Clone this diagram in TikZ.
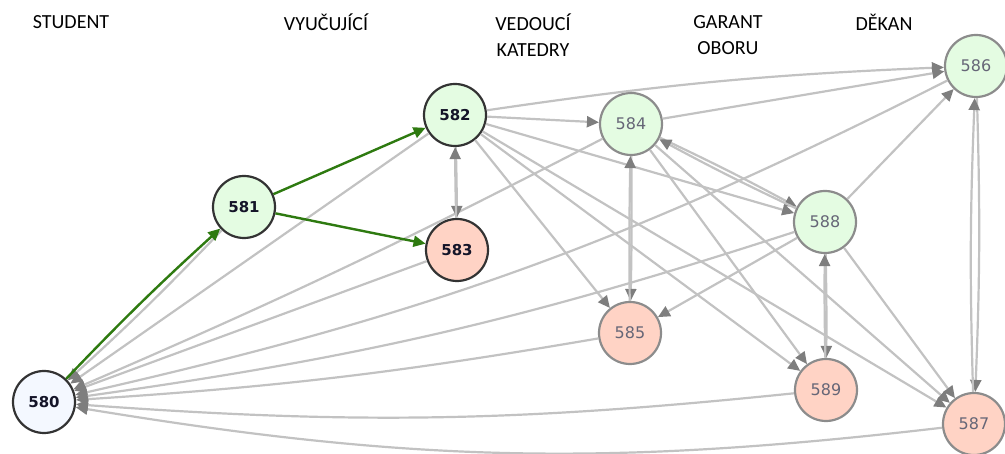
\documentclass[tikz,border=0pt]{standalone}
\usepackage{fontspec}
\setmainfont{Carlito}
\newfontfamily\numfont{DejaVu Sans}
\usetikzlibrary{arrows.meta}
\definecolor{edgegray}{HTML}{C2C2C2}
\definecolor{tipgray}{HTML}{7E7E7E}
\definecolor{flowgreen}{HTML}{2E7A10}
\definecolor{studfill}{HTML}{F4F8FF}
\definecolor{okfill}{HTML}{E4FCE2}
\definecolor{nofill}{HTML}{FFD3C5}
\definecolor{darkrim}{HTML}{333333}
\definecolor{lightrim}{HTML}{8C8C8C}
\definecolor{darknum}{HTML}{141428}
\definecolor{lightnum}{HTML}{666677}
\tikzset{
  rolehead/.style = {font=\fontsize{20}{26}\selectfont,align=center,text=black},
  actnode/.style  = {circle,draw=darkrim,line width=2.2pt,minimum size=62pt,inner sep=0pt,
                     font=\numfont\bfseries\fontsize{15}{18}\selectfont,text=darknum},
  idlenode/.style = {circle,draw=lightrim,line width=2.2pt,minimum size=62pt,inner sep=0pt,
                     font=\numfont\fontsize{16}{18}\selectfont,text=lightnum},
  flowarr/.style  = {-{Triangle[length=12pt,width=11pt]},flowgreen,line width=2.4pt},
  linkarr/.style  = {-{Triangle[length=12pt,width=11pt,color=tipgray]},edgegray,line width=2.2pt}
}
\begin{document}
\begin{tikzpicture}[x=1pt,y=-1pt]
  \useasboundingbox (0,0) rectangle (1005,454);
  % --- role headers
  \node[rolehead] (hStud) at (71,22)  {STUDENT};
  \node[rolehead] (hTeach) at (326,22) {VYUČUJÍCÍ};
  \node[rolehead] (hHead) at (533,35) {VEDOUCÍ\\KATEDRY};
  \node[rolehead] (hGuar) at (728,35) {GARANT\\OBORU};
  \node[rolehead] (hDean) at (884,22) {DĚKAN};
  % --- states
  \node[actnode,fill=studfill] (n580) at (44,402)  {580};
  \node[actnode,fill=okfill]   (n581) at (244,207) {581};
  \node[actnode,fill=okfill]   (n582) at (455,115) {582};
  \node[actnode,fill=nofill]   (n583) at (457,250) {583};
  \node[idlenode,fill=okfill]  (n584) at (631,124) {584};
  \node[idlenode,fill=nofill]  (n585) at (630,333) {585};
  \node[idlenode,fill=okfill]  (n586) at (976,66)  {586};
  \node[idlenode,fill=nofill]  (n587) at (974,424) {587};
  \node[idlenode,fill=okfill]  (n588) at (825,222) {588};
  \node[idlenode,fill=nofill]  (n589) at (826,390) {589};
  % --- back to the student
  \foreach \a/\k in {581/2,582/0,583/0,584/2,585/3,586/7,587/8,588/5,589/5}
    { \draw[linkarr] (n\a) to[bend left=\k] (n580); }
  % --- transitions between the other roles
  \foreach \a/\b/\k in {582/583/0.6,583/582/0.6,582/584/0,582/586/3,582/588/0,
                        582/585/0,582/589/0,582/587/0,
                        584/585/0.8,585/584/0.8,584/588/1.5,588/584/1.5,
                        584/586/0,584/589/0,584/587/0,
                        588/589/0.8,589/588/0.8,588/586/0,588/585/0,588/587/0,
                        586/587/2,587/586/2}
    { \draw[linkarr] (n\a) to[bend left=\k] (n\b); }
  % --- the path taken
  \draw[flowarr] (n580) to[bend left=2] (n581);
  \draw[flowarr] (n581) -- (n582);
  \draw[flowarr] (n581) -- (n583);
\end{tikzpicture}
\end{document}
